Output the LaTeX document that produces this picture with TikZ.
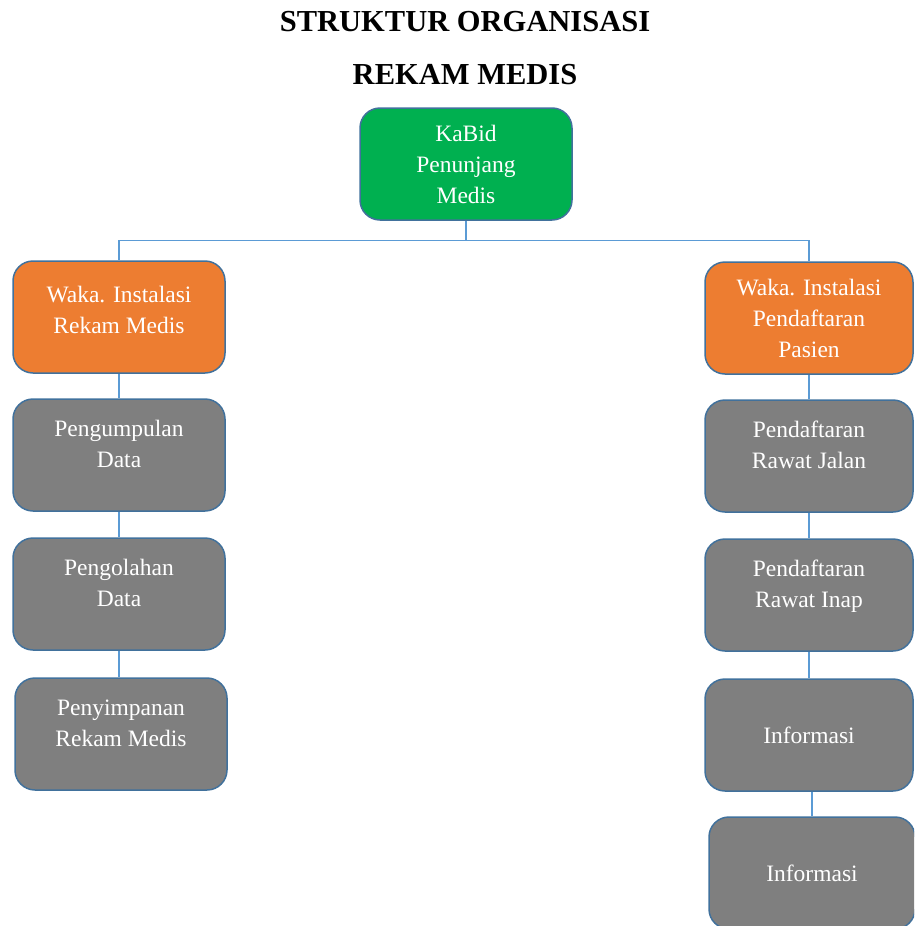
\documentclass[tikz,border=0pt]{standalone}
\usepackage{fontspec}
\setmainfont{Liberation Serif}
\definecolor{kabidgreen}{HTML}{00B050}
\definecolor{wakaorange}{HTML}{ED7D31}
\definecolor{stafgray}{HTML}{7F7F7F}
\definecolor{boxline}{HTML}{41719C}
\definecolor{linkblue}{HTML}{5B9BD5}
\begin{document}
\begin{tikzpicture}[x=1pt,y=-1pt,
    unit/.style={draw=boxline, line width=1.5pt, rounded corners=20pt,
        minimum width=212pt, minimum height=112pt, text=white,
        align=center, font=\fontsize{23.5}{31}\selectfont},
    head/.style={unit, fill=kabidgreen},
    waka/.style={unit, fill=wakaorange},
    staf/.style={unit, fill=stafgray},
    naik/.style={text depth=#1},
    link/.style={draw=linkblue, line width=1.2pt}]
    \useasboundingbox (0,0) rectangle (914,926);
    \clip (0,0) rectangle (914,926);

    \node[font=\fontsize{30.5}{36}\bfseries\selectfont] (judul1) at (465,22) {STRUKTUR ORGANISASI};
    \node[font=\fontsize{30.5}{36}\bfseries\selectfont] (judul2) at (465,75) {REKAM MEDIS};

    \node[head] (kabid) at (466,164) {KaBid\\Penunjang\\Medis};

    % kiri: rekam medis
    \node[waka, naik=15pt] (wakarm) at (119,317) {Waka. Instalasi\\Rekam Medis};
    \node[staf, naik=22pt] (kumpul) at (119,455) {Pengumpulan\\Data};
    \node[staf, naik=22pt] (olah) at (119,594) {Pengolahan\\Data};
    \node[staf, naik=22pt] (simpan) at (121,734) {Penyimpanan\\Rekam Medis};

    % kanan: pendaftaran
    \node[waka, minimum width=208pt] (wakapp) at (809,318) {Waka. Instalasi\\Pendaftaran\\Pasien};
    \node[staf, minimum width=208pt, naik=22pt] (jalan) at (809,456) {Pendaftaran\\Rawat Jalan};
    \node[staf, minimum width=208pt, naik=22pt] (inap) at (809,595) {Pendaftaran\\Rawat Inap};
    \node[staf, minimum width=208pt] (info1) at (809,735) {Informasi};
    \node[staf, minimum width=206pt] (info2) at (812,873) {Informasi};

    \draw[link] (kabid.south) -- ++(0,20) coordinate (cabang) -| (wakarm.north);
    \draw[link] (cabang) -| (wakapp.north);
    \draw[link] (wakarm) -- (kumpul);
    \draw[link] (kumpul) -- (olah);
    \draw[link] (olah.south) -- (olah.south |- simpan.north);
    \draw[link] (wakapp) -- (jalan);
    \draw[link] (jalan) -- (inap);
    \draw[link] (inap) -- (info1);
    \draw[link] (info1.south -| info2.north) -- (info2.north);
\end{tikzpicture}
\end{document}
